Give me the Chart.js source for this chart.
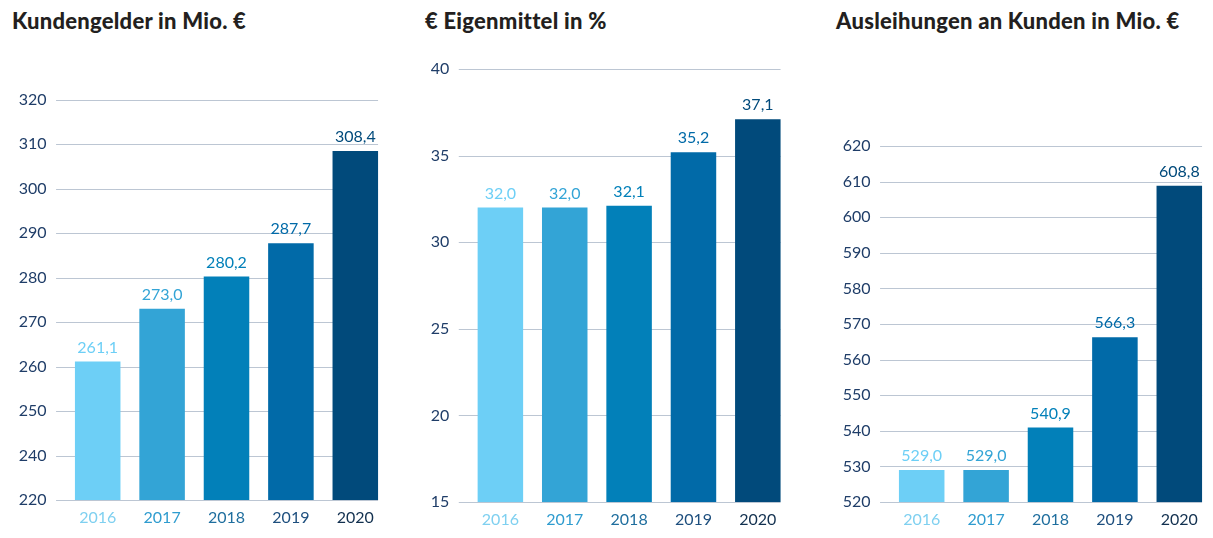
<!DOCTYPE html>
<html lang="de">
<head>
<meta charset="utf-8">
<title>Kundengelder, Eigenmittel, Ausleihungen 2016–2020</title>
<script src="https://cdn.jsdelivr.net/npm/chart.js@4"></script>
<style>
    html, body { margin: 0; padding: 0; background: #fff; }
    body { width: 1213px; height: 538px; position: relative; overflow: hidden; }
    .titel { position: absolute; top: 9px; font: 900 22px Lato, sans-serif; letter-spacing: 0.25px; color: #231f20; white-space: nowrap; line-height: 24px; }
    .box { position: absolute; top: 0; height: 538px; }
</style>
</head>
<body>
<div class="titel" style="left:12px">Kundengelder in Mio. €</div>
<div class="titel" style="left:425px">€ Eigenmittel in %</div>
<div class="titel" style="left:836px">Ausleihungen an Kunden in Mio. €</div>

<div class="box" style="left:0;width:392px"><canvas id="kundengelderChart"></canvas></div>
<div class="box" style="left:400px;width:395px"><canvas id="eigenmittelChart"></canvas></div>
<div class="box" style="left:815px;width:398px"><canvas id="ausleihungenChart"></canvas></div>

<script>
// Daten
const jahre = ['2016', '2017', '2018', '2019', '2020'];
const kundengelder = [261.1, 273.0, 280.2, 287.7, 308.4];
const eigenmittel = [32.0, 32.0, 32.1, 35.2, 37.1];
const ausleihungen = [529.0, 529.0, 540.9, 566.3, 608.8];

// Farben
const balkenFarben = ['#6dcff6', '#33a4d6', '#0280b9', '#016aa8', '#014a7b'];
const jahrFarben = ['#7fd0f0', '#2f9ccf', '#1f6e9e', '#1e4f7e', '#12304f'];
const achsenFarbe = '#1f3d68';
const gitterFarbe = '#bcc6d3';

// Zahl im deutschen Format (eine Nachkommastelle)
function formatWert(v) {
    return v.toFixed(1).replace('.', ',');
}

// Gitterlinien: beginnen eine Lücke vor dem ersten Balken, enden am letzten Balken
const gitterPlugin = {
    id: 'gitter',
    beforeDatasetsDraw(chart) {
        const ctx = chart.ctx;
        const meta = chart.getDatasetMeta(0);
        const xScale = chart.scales.x;
        const yScale = chart.scales.y;
        const erster = meta.data[0];
        const letzter = meta.data[meta.data.length - 1];
        const luecke = (xScale.getPixelForValue(1) - xScale.getPixelForValue(0)) - erster.width;
        const start = erster.x - erster.width / 2 - luecke;
        const ende = letzter.x + letzter.width / 2;
        ctx.save();
        ctx.strokeStyle = gitterFarbe;
        ctx.lineWidth = 1;
        yScale.ticks.forEach(t => {
            const y = Math.round(yScale.getPixelForValue(t.value)) + 0.5;
            ctx.beginPath();
            ctx.moveTo(start, y);
            ctx.lineTo(ende, y);
            ctx.stroke();
        });
        ctx.restore();
    }
};

// Werte über den Balken
const wertePlugin = {
    id: 'werte',
    afterDatasetsDraw(chart) {
        const ctx = chart.ctx;
        const werte = chart.data.datasets[0].data;
        ctx.save();
        ctx.font = '16px Lato, sans-serif';
        ctx.textAlign = 'center';
        ctx.textBaseline = 'bottom';
        chart.getDatasetMeta(0).data.forEach((bar, i) => {
            ctx.fillStyle = balkenFarben[i];
            ctx.fillText(formatWert(werte[i]), bar.x, bar.y - 6);
        });
        ctx.restore();
    }
};

function createBalkenChart(id, werte, cfg) {
    const ctx = document.getElementById(id).getContext('2d');
    return new Chart(ctx, {
        type: 'bar',
        data: {
            labels: jahre,
            datasets: [{
                data: werte,
                backgroundColor: balkenFarben,
                barPercentage: 0.707,
                categoryPercentage: 1
            }]
        },
        options: {
            responsive: true,
            maintainAspectRatio: false,
            animation: false,
            layout: {
                padding: { top: cfg.oben, right: cfg.rechts, left: 0, bottom: 0 }
            },
            plugins: {
                legend: { display: false },
                tooltip: { enabled: false }
            },
            scales: {
                x: {
                    grid: { display: false, drawTicks: false },
                    border: { display: false },
                    ticks: {
                        padding: 8,
                        color: c => jahrFarben[c.index],
                        font: { family: 'Lato', size: 16 }
                    },
                    afterFit: s => { s.height = cfg.xHoehe; }
                },
                y: {
                    min: cfg.min,
                    max: cfg.max,
                    grid: { display: false, drawTicks: false },
                    border: { display: false },
                    ticks: {
                        stepSize: cfg.schritt,
                        padding: 19,
                        color: achsenFarbe,
                        font: { family: 'Lato', size: 16 },
                        callback: cfg.beschriftung || (v => v)
                    },
                    afterFit: s => { s.width = cfg.yBreite; }
                }
            }
        },
        plugins: [gitterPlugin, wertePlugin]
    });
}

document.addEventListener('DOMContentLoaded', function() {
    // Achse ist unterbrochen: unterste Linie trägt die Beschriftung 220
    createBalkenChart('kundengelderChart', kundengelder, {
        min: 230, max: 320, schritt: 10,
        oben: 99.5, rechts: 4.5, yBreite: 65.5, xHoehe: 38,
        beschriftung: v => (v === 230 ? '220' : v)
    });
    createBalkenChart('eigenmittelChart', eigenmittel, {
        min: 15, max: 40, schritt: 5,
        oben: 69, rechts: 5, yBreite: 68.2, xHoehe: 36
    });
    createBalkenChart('ausleihungenChart', ausleihungen, {
        min: 520, max: 620, schritt: 10,
        oben: 146, rechts: 1.5, yBreite: 74.5, xHoehe: 36
    });
});
</script>
</body>
</html>
